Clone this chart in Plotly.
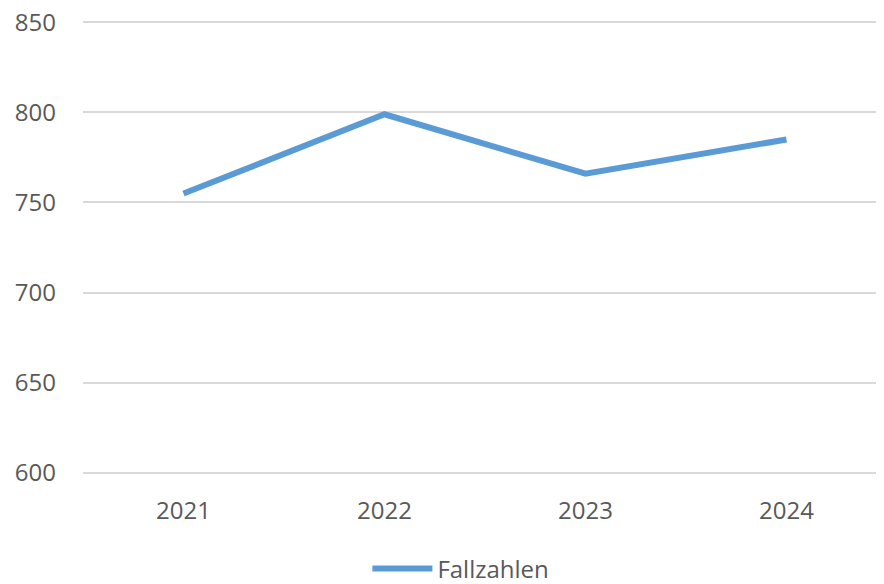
import plotly.graph_objects as go

years = ["2021", "2022", "2023", "2024"]
fallzahlen = [755, 799, 766, 785]
y_ticks = [600, 650, 700, 750, 800, 850]

fig = go.Figure()
fig.add_trace(go.Scatter(
    x=years, y=fallzahlen, mode="lines", name="Fallzahlen",
    line=dict(color="#5B9BD5", width=6, shape="linear"),
))

fig.update_layout(
    width=876, height=576,
    margin=dict(l=75, r=0, t=13, b=110, autoexpand=False),
    paper_bgcolor="white", plot_bgcolor="white",
    font=dict(family="Open Sans, Liberation Sans, sans-serif", size=24, color="#595959"),
    showlegend=True,
    legend=dict(orientation="h", x=0.517, xanchor="center", xref="container",
                y=0.026, yanchor="middle", yref="container",
                font=dict(size=24, color="#595959"), itemwidth=60,
                bgcolor="rgba(0,0,0,0)"),
    xaxis=dict(type="category", range=[-0.5, 3.485], showgrid=False, zeroline=False,
               showline=False, ticks="", ticklabelstandoff=20, automargin=False),
    yaxis=dict(range=[599.2, 850.8], tickvals=y_ticks, showgrid=True, gridcolor="#D9D9D9",
               gridwidth=1.5, zeroline=False, showline=False, ticks="", ticklabelstandoff=26,
               automargin=False, ticklabeloverflow="allow"),
)

fig.write_html("out.html")
